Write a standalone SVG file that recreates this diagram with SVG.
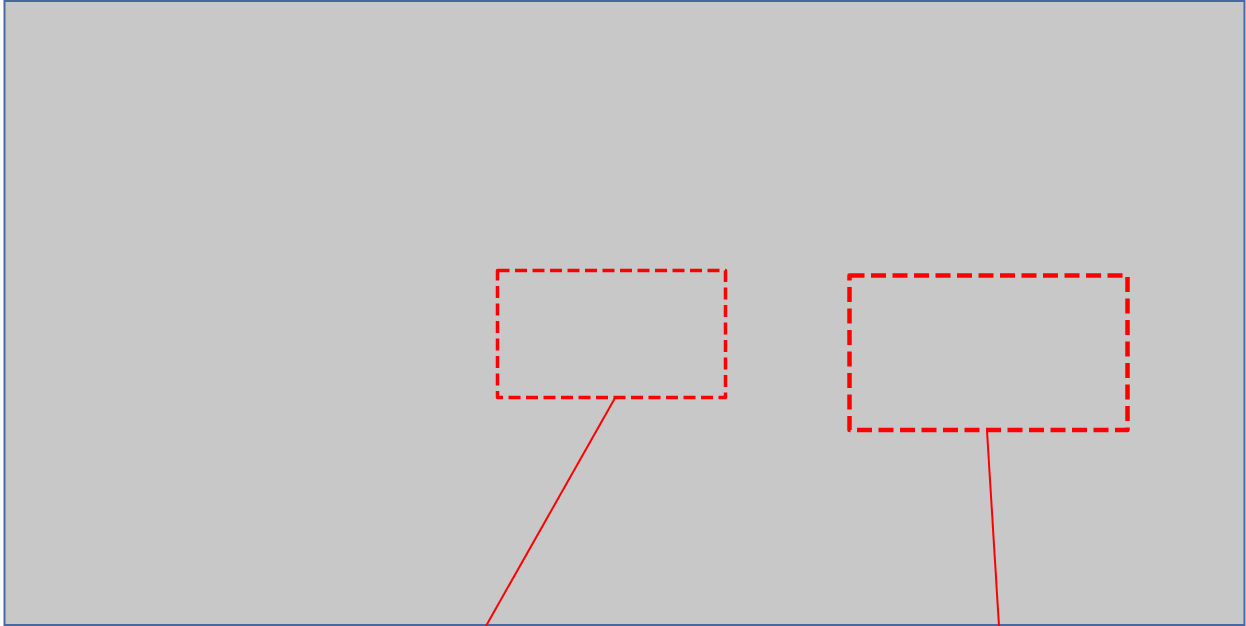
<svg xmlns="http://www.w3.org/2000/svg" width="1246" height="626" viewBox="0 0 1246 626">
<style>
.frame{fill:#c8c8c8;stroke:#4a68a0;stroke-width:2}
.callout{fill:none;stroke:#ff0000;stroke-linejoin:round}
.conn{stroke:#ff0000;stroke-width:2;fill:none}
</style>
<rect class="frame" x="4.5" y="1" width="1240" height="624"/>
<g id="box1"><rect class="callout" x="497.5" y="270.5" width="228" height="127" stroke-width="3.5" stroke-dasharray="12 5.5"/></g>
<g id="box2"><rect class="callout" x="849.5" y="275.5" width="278" height="154.5" stroke-width="4.5" stroke-dasharray="15 6.5"/></g>
<g id="connectors">
<line class="conn" x1="615" y1="398" x2="486" y2="626"/>
<line class="conn" x1="987" y1="431" x2="999" y2="626"/>
</g>
</svg>
